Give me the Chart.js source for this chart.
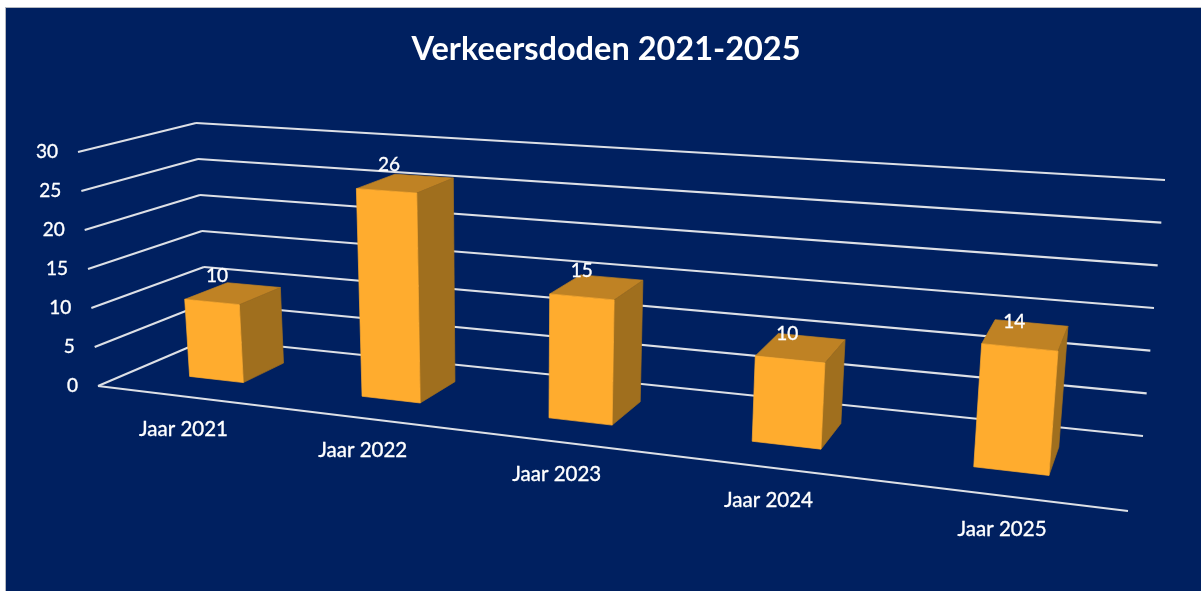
<!DOCTYPE html>
<html lang="nl">
<head>
<meta charset="utf-8">
<title>Verkeersdoden 2021-2025</title>
<script src="https://cdn.jsdelivr.net/npm/chart.js@4"></script>
<style>
  html, body { margin: 0; padding: 0; background: #fff; overflow: hidden; }
  canvas { display: block; filter: blur(0.55px); }
</style>
</head>
<body>
<canvas id="grafiek" width="1201" height="591"></canvas>
<script>
// Gegevens
var jaren = ['Jaar 2021', 'Jaar 2022', 'Jaar 2023', 'Jaar 2024', 'Jaar 2025'];
var doden = [10, 26, 15, 10, 14];
var tickWaarden = [0, 5, 10, 15, 20, 25, 30];

// Kleuren
var kleurVoor = '#FFAC2E';
var kleurBoven = '#BF8224';
var kleurZij = '#A06F1E';
var kleurLijn = '#DDE0E6';
var kleurTekst = '#FFFFFF';

// 3D-kader: hoeken van de vloer in pixels, en hoe ver de as omhoog loopt per hoek
var vloer = { voorL: [98, 386], voorR: [1128, 511], achterL: [208, 339], achterR: [1143, 436] };
var hoogte = { voorL: [-20, -234], voorR: [22, -275], achterL: [-12, -216], achterR: [22, -256] };
var diepteVoor = 0.316, diepteAchter = 0.71;

// perspectief van de vloer (eenheidsvierkant naar vierhoek)
var sx = vloer.voorL[0] - vloer.voorR[0] + vloer.achterR[0] - vloer.achterL[0];
var sy = vloer.voorL[1] - vloer.voorR[1] + vloer.achterR[1] - vloer.achterL[1];
var dx1 = vloer.voorR[0] - vloer.achterR[0], dy1 = vloer.voorR[1] - vloer.achterR[1];
var dx2 = vloer.achterL[0] - vloer.achterR[0], dy2 = vloer.achterL[1] - vloer.achterR[1];
var det = dx1 * dy2 - dx2 * dy1;
var pg = (sx * dy2 - dx2 * sy) / det;
var ph = (dx1 * sy - sx * dy1) / det;

// u = links-rechts, v = hoogte, d = diepte (alles 0..1)
function project(u, v, d) {
  var w = 1 + pg * u + ph * d;
  var p = [0, 1].map(function (i) {
    var basis = vloer.voorL[i]
      + u * ((1 + pg) * vloer.voorR[i] - vloer.voorL[i])
      + d * ((1 + ph) * vloer.achterL[i] - vloer.voorL[i]);
    var op = (1 - d) * ((1 - u) * hoogte.voorL[i] + u * hoogte.voorR[i])
      + d * ((1 - u) * hoogte.achterL[i] + u * hoogte.achterR[i]);
    return basis / w + v * op;
  });
  return p;
}

// de balken staan in het midden iets meer naar rechts dan de vloer aangeeft
function balkU(u) {
  var r = (u - 0.5) / 0.4;
  return u + 0.003 + 0.008 * (1 - r * r);
}

function lijn(ctx, a, b) {
  ctx.beginPath();
  ctx.moveTo(a[0], a[1]);
  ctx.lineTo(b[0], b[1]);
  ctx.stroke();
}

function vlak(ctx, punten, kleur) {
  ctx.fillStyle = kleur;
  ctx.strokeStyle = kleur;
  ctx.lineWidth = 0.7;
  ctx.beginPath();
  punten.forEach(function (p, i) {
    if (i === 0) ctx.moveTo(p[0], p[1]); else ctx.lineTo(p[0], p[1]);
  });
  ctx.closePath();
  ctx.fill();
  ctx.stroke();
}

// tekst iets voller zetten
function tekst(ctx, str, x, y) {
  ctx.lineWidth = 0.35;
  ctx.strokeStyle = kleurTekst;
  ctx.strokeText(str, x, y);
  ctx.fillText(str, x, y);
}

var grafiek3d = {
  id: 'grafiek3d',
  beforeDraw: function (chart) {
    var ctx = chart.ctx;
    ctx.save();
    ctx.fillStyle = '#B4B8C0';
    ctx.fillRect(5, 7, chart.width - 5, chart.height - 7);
    ctx.fillStyle = '#002060';
    ctx.fillRect(6, 8, chart.width - 6, chart.height - 8);
    ctx.restore();
  },
  afterDatasetsDraw: function (chart) {
    var ctx = chart.ctx, area = chart.chartArea;
    var xs = chart.scales.x, ys = chart.scales.y;
    function uVan(px) { return (px - area.left) / area.width; }
    function vVan(py) { return (area.bottom - py) / area.height; }

    ctx.save();
    // rasterlijnen op de wanden
    ctx.font = '19px Lato';
    ctx.fillStyle = kleurTekst;
    ctx.textAlign = 'right';
    ctx.textBaseline = 'middle';
    ys.ticks.forEach(function (t) {
      var v = vVan(ys.getPixelForValue(t.value));
      var voor = project(0, v, 0), hoek = project(0, v, 1), eind = project(1, v, 1);
      ctx.strokeStyle = kleurLijn;
      ctx.lineWidth = 2.1;
      lijn(ctx, voor, hoek);
      lijn(ctx, hoek, eind);
      tekst(ctx, t.label, voor[0] - 20, voor[1]);
    });
    ctx.strokeStyle = kleurLijn;
    ctx.lineWidth = 2.1;
    lijn(ctx, project(0, 0, 0), project(1, 0, 0));

    // balken uit de elementen van de dataset
    var meta = chart.getDatasetMeta(0);
    meta.data.forEach(function (el, i) {
      var u0 = balkU(uVan(el.x - el.width / 2)), u1 = balkU(uVan(el.x + el.width / 2));
      var v0 = vVan(el.base), v1 = vVan(el.y);
      var d0 = diepteVoor, d1 = diepteAchter;
      vlak(ctx, [project(u0, v1, d0), project(u1, v1, d0), project(u1, v1, d1), project(u0, v1, d1)], kleurBoven);
      vlak(ctx, [project(u1, v0, d0), project(u1, v1, d0), project(u1, v1, d1), project(u1, v0, d1)], kleurZij);
      vlak(ctx, [project(u0, v0, d0), project(u1, v0, d0), project(u1, v1, d0), project(u0, v1, d0)], kleurVoor);
    });

    // waarden boven de balken en jaartallen onder de vloer
    ctx.fillStyle = kleurTekst;
    ctx.textAlign = 'center';
    meta.data.forEach(function (el, i) {
      var u = uVan(el.x);
      var top = project(balkU(u), vVan(el.y), diepteVoor);
      ctx.font = '19px Lato';
      tekst(ctx, String(doden[i]), top[0] + (0.5 - u) * 13, top[1] - 26);
      var voetU = uVan(xs.getPixelForTick(i));
      var voet = project(voetU, 0, 0);
      var r = (voetU - 0.5) / 0.4;
      ctx.font = '20.5px Lato';
      tekst(ctx, jaren[i], voet[0] + 13 - 8 * r * r, voet[1] + 34);
    });
    ctx.restore();
  }
};

var ctx = document.getElementById('grafiek').getContext('2d');
var grafiek = new Chart(ctx, {
  type: 'bar',
  data: {
    labels: jaren,
    datasets: [{
      label: 'Verkeersdoden',
      data: doden,
      backgroundColor: 'transparent',
      barPercentage: 0.32,
      categoryPercentage: 1
    }]
  },
  options: {
    responsive: false,
    animation: false,
    layout: { padding: { left: 11 } },
    plugins: {
      legend: { display: false },
      tooltip: { enabled: false },
      title: {
        display: true,
        text: 'Verkeersdoden 2021-2025',
        color: kleurTekst,
        font: { family: 'Lato', size: 32.5, weight: 'bold' },
        padding: { top: 30, bottom: 10 }
      }
    },
    scales: {
      x: { display: false },
      y: {
        display: false,
        min: 0,
        max: 30,
        afterBuildTicks: function (as) {
          as.ticks = tickWaarden.map(function (w) { return { value: w }; });
        }
      }
    }
  },
  plugins: [grafiek3d]
});
</script>
</body>
</html>
